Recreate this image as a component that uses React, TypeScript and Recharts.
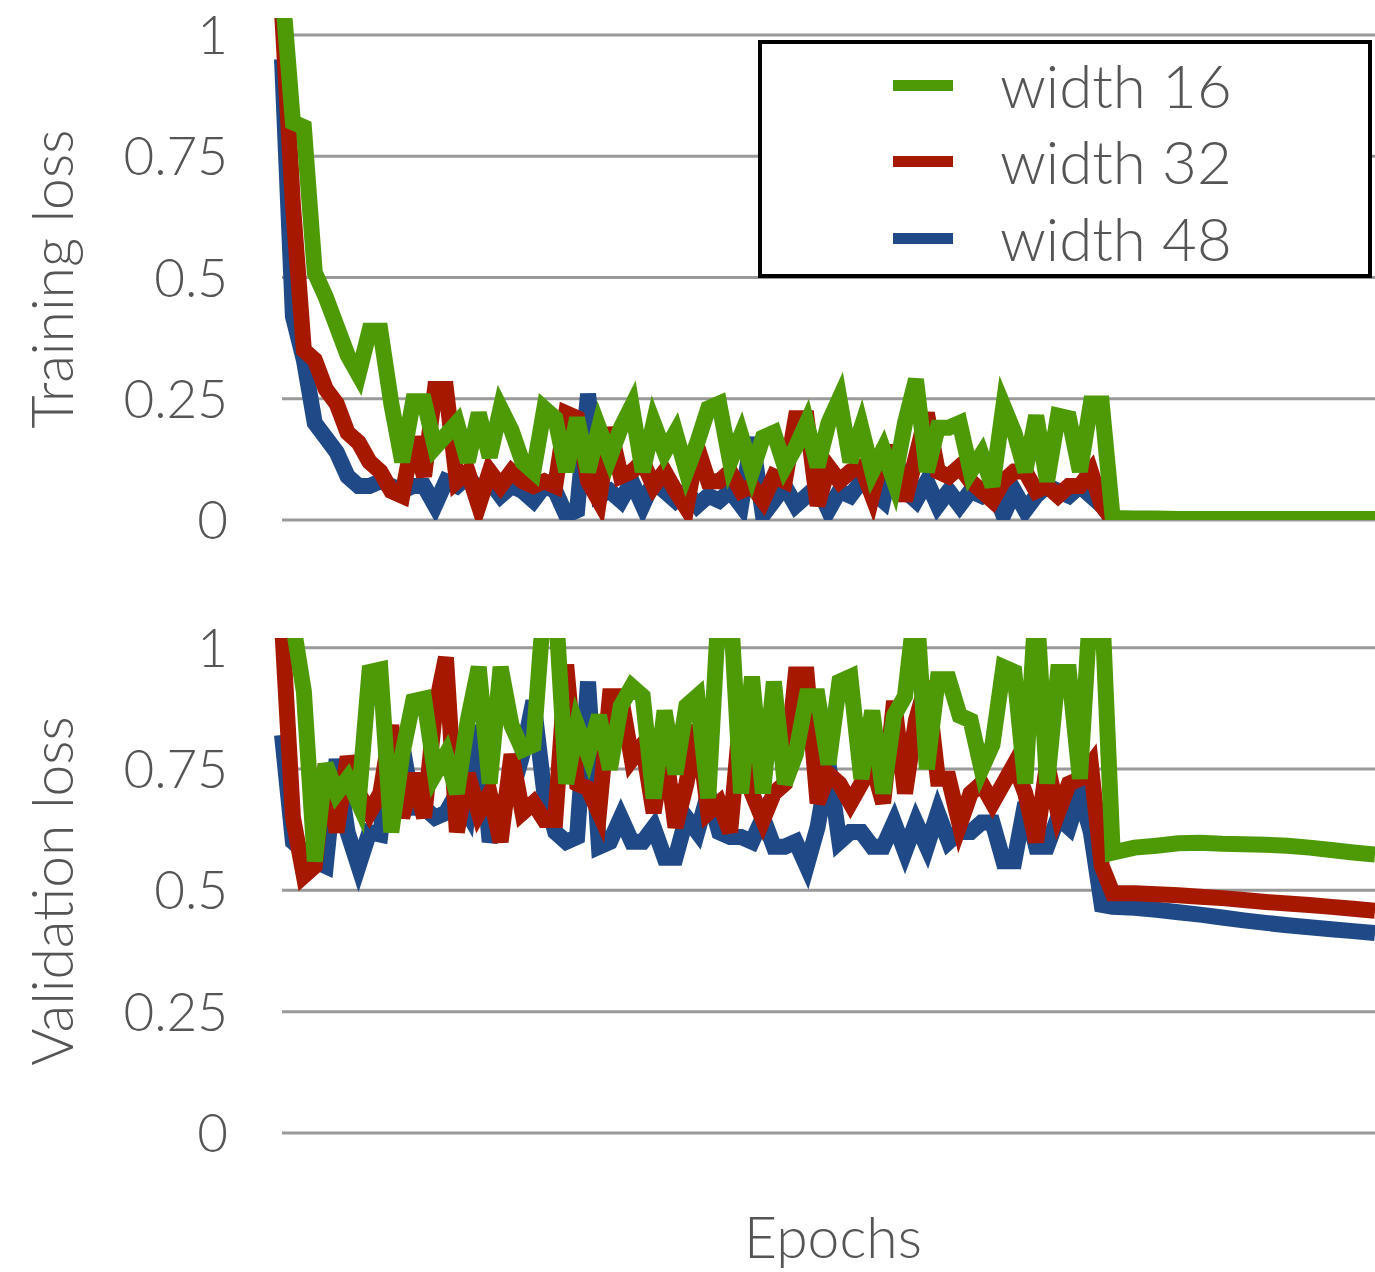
import { LineChart, Line, XAxis, YAxis, CartesianGrid, Legend } from 'recharts';

const FONT = 'Lato, "Open Sans", sans-serif';
const TEXT = '#555555';

// epochs: every 2nd epoch up to the LR drop, then every 4th
const EPOCHS = [
  0, 2, 4, 6, 8, 10, 12, 14, 16, 18, 20, 22, 24, 26, 28, 30, 32, 34, 36, 38,
  40, 42, 44, 46, 48, 50, 52, 54, 56, 58, 60, 62, 64, 66, 68, 70, 72, 74, 76, 78,
  80, 82, 84, 86, 88, 90, 92, 94, 96, 98, 100, 102, 104, 106, 108, 110, 112, 114, 116, 118,
  120, 122, 124, 126, 128, 130, 132, 134, 136, 138, 140, 142, 144, 146, 148, 150,
  152, 156, 160, 164, 168, 172, 176, 180, 184, 188, 192, 196, 200,
];

const TRAIN_W16 = [
  1.1, 0.82, 0.81, 0.51, 0.46, 0.40, 0.34, 0.30, 0.39, 0.39, 0.24, 0.12, 0.245, 0.245, 0.15, 0.175, 0.20, 0.12, 0.22, 0.13,
  0.23, 0.185, 0.12, 0.10, 0.23, 0.21, 0.10, 0.21, 0.10, 0.19, 0.13, 0.19, 0.235, 0.10, 0.20, 0.14, 0.18, 0.10, 0.16, 0.23,
  0.24, 0.12, 0.175, 0.10, 0.17, 0.18, 0.11, 0.15, 0.20, 0.11, 0.20, 0.25, 0.12, 0.19, 0.10, 0.145, 0.08, 0.20, 0.29, 0.10,
  0.19, 0.19, 0.20, 0.10, 0.135, 0.07, 0.235, 0.18, 0.10, 0.215, 0.08, 0.215, 0.21, 0.10, 0.24, 0.24,
  0.004, 0.003, 0.003, 0.002, 0.002, 0.002, 0.002, 0.002, 0.002, 0.002, 0.002, 0.002, 0.002,
];
const TRAIN_W32 = [
  1.05, 0.65, 0.35, 0.33, 0.27, 0.24, 0.18, 0.16, 0.12, 0.10, 0.06, 0.05, 0.17, 0.09, 0.27, 0.27, 0.08, 0.10, 0.03, 0.10,
  0.07, 0.10, 0.08, 0.07, 0.08, 0.07, 0.22, 0.21, 0.08, 0.04, 0.19, 0.09, 0.10, 0.12, 0.07, 0.10, 0.06, 0.025, 0.15, 0.08,
  0.08, 0.10, 0.06, 0.07, 0.04, 0.09, 0.08, 0.21, 0.21, 0.03, 0.11, 0.08, 0.10, 0.11, 0.05, 0.14, 0.14, 0.04, 0.13, 0.22,
  0.10, 0.09, 0.11, 0.08, 0.06, 0.04, 0.08, 0.10, 0.10, 0.06, 0.07, 0.05, 0.07, 0.07, 0.10, 0.03,
  0.001, 0.001, 0.001, 0.001, 0.001, 0.001, 0.001, 0.001, 0.001, 0.001, 0.001, 0.001, 0.001,
];
const TRAIN_W48 = [
  0.95, 0.42, 0.33, 0.20, 0.17, 0.14, 0.09, 0.07, 0.07, 0.08, 0.07, 0.06, 0.07, 0.07, 0.03, 0.08, 0.07, 0.09, 0.06, 0.08,
  0.05, 0.07, 0.06, 0.04, 0.07, 0.06, 0.01, 0.02, 0.26, 0.05, 0.06, 0.04, 0.08, 0.03, 0.08, 0.06, 0.04, 0.06, 0.03, 0.05,
  0.04, 0.06, 0.03, 0.17, 0.01, 0.04, 0.07, 0.03, 0.05, 0.07, 0.02, 0.06, 0.05, 0.08, 0.06, 0.04, 0.14, 0.06, 0.04, 0.08,
  0.03, 0.06, 0.03, 0.06, 0.05, 0.07, 0.01, 0.06, 0.02, 0.05, 0.07, 0.06, 0.05, 0.07, 0.05, 0.03,
  0.001, 0.001, 0.001, 0.001, 0.001, 0.001, 0.001, 0.001, 0.001, 0.001, 0.001, 0.001, 0.001,
];

const VAL_W16 = [
  1.1, 1.05, 0.91, 0.56, 0.76, 0.70, 0.73, 0.68, 0.95, 0.955, 0.62, 0.78, 0.89, 0.895, 0.74, 0.78, 0.70, 0.85, 0.96, 0.72,
  0.96, 0.84, 0.79, 0.80, 1.1, 1.1, 0.72, 0.84, 0.78, 0.86, 0.75, 0.88, 0.92, 0.90, 0.69, 0.87, 0.74, 0.88, 0.90, 0.69,
  1.1, 1.1, 0.70, 0.94, 0.70, 0.93, 0.72, 0.78, 0.90, 0.90, 0.76, 0.93, 0.94, 0.73, 0.87, 0.70, 0.86, 0.90, 1.1, 0.75,
  0.935, 0.935, 0.86, 0.85, 0.75, 0.80, 0.96, 0.95, 0.72, 1.1, 0.72, 0.95, 0.95, 0.73, 1.1, 1.1,
  0.578, 0.588, 0.592, 0.597, 0.598, 0.596, 0.595, 0.594, 0.592, 0.588, 0.583, 0.578, 0.574,
];
const VAL_W32 = [
  1.05, 0.65, 0.53, 0.55, 0.76, 0.62, 0.775, 0.70, 0.66, 0.70, 0.84, 0.65, 0.74, 0.65, 0.87, 0.98, 0.62, 0.74, 0.66, 0.70,
  0.60, 0.78, 0.66, 0.68, 0.645, 0.645, 0.965, 0.72, 0.71, 0.66, 0.90, 0.90, 0.77, 0.80, 0.66, 0.80, 0.63, 0.72, 0.84, 0.66,
  0.68, 0.62, 0.87, 0.70, 0.645, 0.70, 0.72, 0.945, 0.945, 0.68, 0.74, 0.72, 0.68, 0.72, 0.76, 0.68, 0.89, 0.70, 0.85, 0.93,
  0.73, 0.73, 0.635, 0.70, 0.72, 0.68, 0.72, 0.76, 0.70, 0.60, 0.76, 0.66, 0.72, 0.73, 0.76, 0.55,
  0.494, 0.494, 0.492, 0.49, 0.487, 0.484, 0.48, 0.476, 0.473, 0.47, 0.466, 0.462, 0.458,
];
const VAL_W48 = [
  0.82, 0.60, 0.58, 0.56, 0.55, 0.77, 0.62, 0.55, 0.62, 0.615, 0.80, 0.80, 0.67, 0.67, 0.65, 0.66, 0.70, 0.66, 0.84, 0.60,
  0.68, 0.70, 0.78, 0.89, 0.70, 0.62, 0.60, 0.61, 0.93, 0.59, 0.60, 0.65, 0.60, 0.60, 0.63, 0.567, 0.567, 0.65, 0.62, 0.70,
  0.62, 0.61, 0.61, 0.60, 0.65, 0.59, 0.59, 0.60, 0.55, 0.63, 0.76, 0.60, 0.62, 0.62, 0.59, 0.59, 0.64, 0.58, 0.64, 0.59,
  0.66, 0.60, 0.62, 0.62, 0.64, 0.64, 0.56, 0.56, 0.68, 0.59, 0.59, 0.65, 0.63, 0.70, 0.62, 0.47,
  0.466, 0.464, 0.46, 0.455, 0.45, 0.444, 0.438, 0.433, 0.428, 0.424, 0.42, 0.416, 0.412,
];

const Y_TICKS = [0, 0.25, 0.5, 0.75, 1];

// drawing order: widest first so width 16 sits on top
const SERIES = [
  { key: 'w48', name: 'width 48', color: '#204a87' },
  { key: 'w32', name: 'width 32', color: '#a61900' },
  { key: 'w16', name: 'width 16', color: '#4e9a06' },
];
const LEGEND_ITEMS = [SERIES[2], SERIES[1], SERIES[0]];

const trainRows = EPOCHS.map((epoch, i) => ({
  epoch,
  w16: TRAIN_W16[i],
  w32: TRAIN_W32[i],
  w48: TRAIN_W48[i],
}));
const valRows = EPOCHS.map((epoch, i) => ({
  epoch,
  w16: VAL_W16[i],
  w32: VAL_W32[i],
  w48: VAL_W48[i],
}));

const TickLabel = (props: any) => {
  const { x, y, payload } = props;
  return (
    <text x={x} y={y} dy="0.36em" textAnchor="end" fill={TEXT} fontSize={53} fontFamily={FONT} fontWeight={300}>
      {String(payload.value)}
    </text>
  );
};

const axisTitle = (text: string, x: number, y: number, rotate: boolean) => () => (
  <text
    x={x}
    y={y}
    transform={rotate ? `rotate(-90 ${x} ${y})` : undefined}
    textAnchor="middle"
    fill={TEXT}
    fontSize={57}
    fontFamily={FONT}
    fontWeight={300}
  >
    {text}
  </text>
);

const renderLegend = () => (
  <div
    style={{
      width: 614,
      height: 238,
      border: '4px solid #000',
      boxSizing: 'border-box',
      background: '#fff',
      position: 'relative',
      fontFamily: FONT,
    }}
  >
    {LEGEND_ITEMS.map((item, i) => (
      <div
        key={item.key}
        style={{
          position: 'absolute',
          left: 131,
          top: [6, 82, 159][i],
          height: 70,
          display: 'flex',
          alignItems: 'center',
        }}
      >
        <span style={{ width: 60, height: 11, background: item.color, display: 'inline-block', marginRight: 47 }} />
        <span style={{ fontSize: 60, lineHeight: '70px', color: TEXT, fontWeight: 300 }}>{item.name}</span>
      </div>
    ))}
  </div>
);

function lines() {
  return SERIES.map((s) => (
    <Line
      key={s.key}
      type="linear"
      dataKey={s.key}
      name={s.name}
      stroke={s.color}
      strokeWidth={16}
      dot={false}
      activeDot={false}
      isAnimationActive={false}
    />
  ));
}

export default function App() {
  return (
    <div
      style={{
        position: 'absolute',
        left: 0,
        top: 0,
        width: 1375,
        height: 1272,
        background: '#fff',
        overflow: 'hidden',
        fontFamily: FONT,
      }}
    >
      <div style={{ position: 'absolute', left: 0, top: 0 }}>
        <LineChart width={1375} height={560} data={trainRows} margin={{ top: 18, right: 0, bottom: 40, left: 0 }}>
          <CartesianGrid vertical={false} stroke="#999" strokeWidth={3} syncWithTicks />
          <XAxis type="number" dataKey="epoch" domain={[0, 200]} hide />
          <YAxis
            width={282}
            domain={[0, 1.035]}
            allowDataOverflow
            ticks={Y_TICKS}
            tick={<TickLabel />}
            tickSize={0}
            tickMargin={54}
            axisLine={false}
            tickLine={false}
            label={axisTitle('Training loss', 73, 279, true)}
          />
          {lines()}
          <Legend
            content={renderLegend}
            layout="horizontal"
            verticalAlign="middle"
            align="center"
            wrapperStyle={{ left: 758, top: 40, width: 614, height: 238 }}
          />
        </LineChart>
      </div>
      <div style={{ position: 'absolute', left: 0, top: 560 }}>
        <LineChart width={1375} height={712} data={valRows} margin={{ top: 78, right: 0, bottom: 0, left: 0 }}>
          <CartesianGrid vertical={false} stroke="#999" strokeWidth={3} syncWithTicks />
          <XAxis
            type="number"
            dataKey="epoch"
            domain={[0, 200]}
            tick={false}
            axisLine={false}
            tickLine={false}
            height={139}
            label={axisTitle('Epochs', 833, 698, false)}
          />
          <YAxis
            width={282}
            domain={[0, 1.02]}
            allowDataOverflow
            ticks={Y_TICKS}
            tick={<TickLabel />}
            tickSize={0}
            tickMargin={54}
            axisLine={false}
            tickLine={false}
            label={axisTitle('Validation loss', 73, 331, true)}
          />
          {lines()}
        </LineChart>
      </div>
    </div>
  );
}
